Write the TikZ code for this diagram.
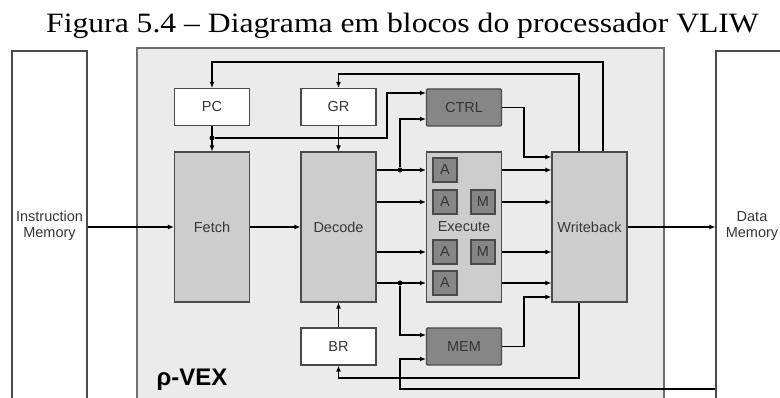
\documentclass[tikz,border=0pt]{standalone}
\usepackage{fontspec}
\setmainfont{Liberation Serif}
\setsansfont{Liberation Sans}
\usetikzlibrary{arrows.meta,positioning,calc}
\definecolor{vexbg}{HTML}{EBEBEB}
\definecolor{vexstage}{HTML}{CDCDCD}
\definecolor{vexunit}{HTML}{868686}
\definecolor{vexline}{HTML}{4A4A4A}
\definecolor{vexink}{HTML}{363636}
\tikzset{
  lbl/.style={font=\sffamily\fontsize{14.5}{16.5}\selectfont, text=vexink},
  mmb/.style={draw=vexline, fill=white, line width=1.1pt, minimum width=75pt, minimum height=350pt, align=center, inner sep=0pt, lbl},
  reg/.style={draw=vexline, fill=white, line width=1.1pt, minimum width=75pt, minimum height=37pt, lbl},
  stg/.style={draw=vexline, fill=vexstage, line width=1.1pt, minimum width=75pt, minimum height=150pt, lbl},
  unt/.style={draw=vexline, fill=vexunit, line width=1.1pt, minimum width=75pt, minimum height=37pt, rounded corners=1pt, lbl},
  fu/.style={draw=vexline, fill=vexunit, line width=1.1pt, minimum size=24pt, inner sep=0pt, lbl},
  arr/.style={-{Latex[length=6pt,width=5pt]}, line width=1.6pt, black},
  wire/.style={line width=1.6pt, black},
  jdot/.style={circle, fill=black, inner sep=0pt, minimum size=5pt},
}

\begin{document}
\begin{tikzpicture}[x=1pt,y=-1pt]
  \useasboundingbox (0,0) rectangle (780,398);
  \clip (0,0) rectangle (780,398);
  \node[font=\fontsize{28}{32}\selectfont, anchor=base, xscale=1.13] (title) at (402.5,33) {Figura 5.4 – Diagrama em blocos do processador VLIW};
  \node[mmb] (imem) at (49.5,226) {Instruction\\Memory};
  \node[mmb, minimum width=72pt] (dmem) at (752,226) {Data\\Memory};
  \node[draw=vexline!80, fill=vexbg, line width=1.1pt, minimum width=527pt, minimum height=362pt] (vex) at (400.5,229) {};
  \node[font=\sffamily\bfseries\fontsize{24}{26}\selectfont, anchor=base west] (vexname) at (153,385) {ρ-VEX};
  \node[reg] (pc) at (212,107) {PC};
  \node[reg] (gr) at (338.5,107) {GR};
  \node[unt] (ctrl) at (464,107.5) {CTRL};
  \node[stg] (fetch) at (212,227) {Fetch};
  \node[stg] (decode) at (338.5,227) {Decode};
  \node[stg] (exec) at (464,227) {Execute};
  \node[stg] (wb) at (589.5,227) {Writeback};
  \node[unt] (mem) at (464,346.5) {MEM};
  \node[reg] (br) at (338.5,346.5) {BR};
  \foreach \nm/\px/\py/\t in {a1/445/170/A, a2/445/202/A, m1/483/202/M, a3/445/252/A, m2/483/252/M, a4/445/283/A}
    \node[fu] (\nm) at (\px,\py) {\t};
  \node[jdot] (jpc) at (212,138) {};
  \node[jdot] (jup) at (400,170) {};
  \node[jdot] (jdn) at (400,283) {};
  \draw[arr] (imem.east |- fetch.west) -- (fetch.west);
  \draw[arr] (fetch) -- (decode);
  \draw[arr] (wb) -- (dmem.west |- wb);
  \draw[arr] (pc) -- (fetch);
  \draw[arr] (gr) -- (decode);
  \draw[arr] (br) -- (decode);
  \draw[arr] (jpc) -- (387,138) |- (ctrl.west |- 0,93);
  \draw[arr] ([xshift=13.5pt]wb.north) |- (pc.north |- 0,62) -- (pc.north);
  \draw[arr] ([xshift=-10.5pt]wb.north) |- (gr.north |- 0,74) -- (gr.north);
  \foreach \ly in {170,202,252,283} {
    \draw[arr] (decode.east |- 0,\ly) -- (exec.west |- 0,\ly);
    \draw[arr] (exec.east |- 0,\ly) -- (wb.west |- 0,\ly);
  }
  \draw[arr] (jup) |- (ctrl.west |- 0,119);
  \draw[arr] (jdn) |- (mem.west |- 0,335);
  \draw[arr] (ctrl.east) -- (524,107.5) |- (wb.west |- 0,157);
  \draw[arr] (mem.east) -- (524,346.5) |- (wb.west |- 0,297);
  \draw[arr] ([xshift=-10.5pt]wb.south) |- (br.south |- 0,378) -- (br.south);
  \draw[arr] (dmem.west |- 0,389) -| (400,359) -- (mem.west |- 0,359);
\end{tikzpicture}
\end{document}
